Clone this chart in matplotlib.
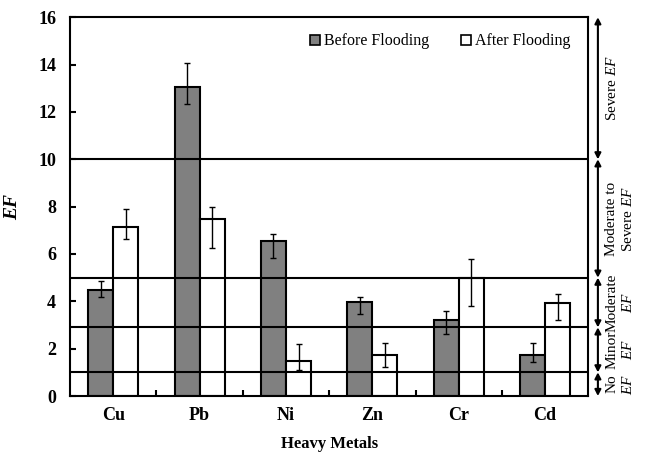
import numpy as np
import matplotlib
matplotlib.use("Agg")
import matplotlib.pyplot as plt
from matplotlib.lines import Line2D

# --- data ---
metals = ["Cu", "Pb", "Ni", "Zn", "Cr", "Cd"]
before = [4.5, 13.05, 6.55, 3.98, 3.2, 1.72]
before_err_lo = [0.3, 0.7, 0.7, 0.5, 0.6, 0.3]
before_err_hi = [0.37, 1.0, 0.3, 0.2, 0.4, 0.5]
after = [7.12, 7.47, 1.48, 1.73, 5.0, 3.93]
after_err_lo = [0.5, 1.2, 0.4, 0.5, 1.2, 0.7]
after_err_hi = [0.8, 0.5, 0.7, 0.5, 0.8, 0.4]

class_bounds = [0, 1, 2.9, 5, 10, 16]
class_labels = ["No\n$EF$", "Minor\n$EF$", "Moderate\n$EF$",
                "Moderate to\nSevere $EF$", "Severe $EF$"]

plt.rcParams.update({
    "font.family": "serif",
    "font.serif": ["Liberation Serif", "DejaVu Serif"],
    "mathtext.fontset": "custom",
    "mathtext.rm": "Liberation Serif",
    "mathtext.it": "Liberation Serif:italic",
    "mathtext.bf": "Liberation Serif:bold:italic",
})

fig = plt.figure(figsize=(6.46, 4.53), dpi=100)
ax = fig.add_axes([0.1084, 0.1258, 0.8023, 0.836])

x = np.arange(len(metals))
w = 0.29
err_kw = dict(ecolor="black", elinewidth=1.0, capsize=2.5, capthick=1.0)
ax.bar(x - w / 2, before, w, color="#808080", edgecolor="black", linewidth=1.5,
       yerr=[before_err_lo, before_err_hi], error_kw=err_kw, zorder=2)
ax.bar(x + w / 2, after, w, color="white", edgecolor="black", linewidth=1.5,
       yerr=[after_err_lo, after_err_hi], error_kw=err_kw, zorder=2)

# class threshold lines
for b in class_bounds[1:-1]:
    ax.axhline(b, color="black", linewidth=1.5, zorder=3)

ax.set_xlim(-0.5, len(metals) - 0.5)
ax.set_ylim(0, 16)
ax.set_yticks(np.arange(0, 17, 2))
ax.set_xticks(x)
ax.set_xticklabels(metals)
ax.set_xticks(np.arange(0.5, len(metals) - 1, 1), minor=True)
ax.tick_params(axis="x", which="major", length=0, pad=8, labelsize=13)
ax.tick_params(axis="x", which="minor", direction="in", length=4, width=1.5)
ax.tick_params(axis="y", direction="in", length=4, width=1.5, pad=10, labelsize=13)
for lbl in ax.get_xticklabels() + ax.get_yticklabels():
    lbl.set_fontweight("bold")
for s in ax.spines.values():
    s.set_linewidth(1.5)

ax.set_xlabel("Heavy Metals", fontsize=12, fontweight="bold")
ax.xaxis.set_label_coords(0.5, -0.106)
ax.set_ylabel("EF", fontsize=14, fontweight="bold", fontstyle="italic")
ax.yaxis.set_label_coords(-0.095, 0.5)

handles = [
    Line2D([0], [0], marker="s", linestyle="none", markersize=7.5,
           markerfacecolor="#808080", markeredgecolor="black", markeredgewidth=1.2),
    Line2D([0], [0], marker="s", linestyle="none", markersize=7.5,
           markerfacecolor="white", markeredgecolor="black", markeredgewidth=1.2),
]
ax.legend(handles, ["Before Flooding", "After Flooding"], ncol=2, frameon=False,
          loc="center", bbox_to_anchor=(0.711, 0.937), fontsize=11.5,
          handletextpad=0.05, columnspacing=1.8, handlelength=1.0)

# right-hand classification arrows
trans = ax.get_yaxis_transform()
for lo, hi, lab in zip(class_bounds[:-1], class_bounds[1:], class_labels):
    ax.annotate("", xy=(1.0185, lo), xytext=(1.0185, hi), xycoords=trans,
                textcoords=trans, annotation_clip=False,
                arrowprops=dict(arrowstyle="<|-|>,head_length=0.35,head_width=0.18",
                                color="black", lw=1.5, shrinkA=0, shrinkB=0))
    ax.text(1.033, (lo + hi) / 2, lab, transform=trans, rotation=90,
            ha="left", va="center", ma="center", fontsize=11, clip_on=False)

fig.savefig("out.png", dpi=100)
